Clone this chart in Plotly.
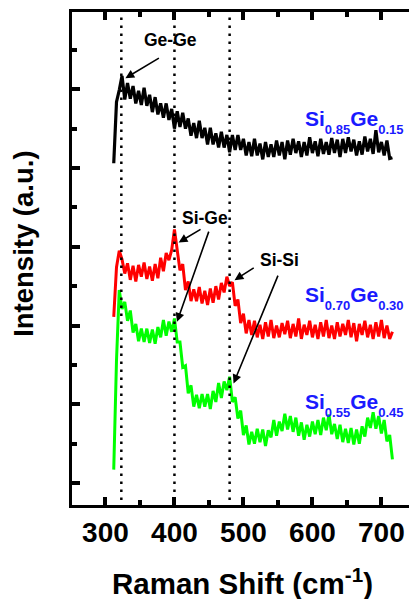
import plotly.graph_objects as go

# Raman shift grid (cm^-1)
raman_shift = [
    312, 316, 320, 324, 328, 332, 336, 340, 344, 348,
    352, 356, 360, 364, 368, 372, 376, 380, 384, 388,
    392, 396, 400, 404, 408, 412, 416, 420, 424, 428,
    432, 436, 440, 444, 448, 452, 456, 460, 464, 468,
    472, 476, 480, 484, 488, 492, 496, 500, 504, 508,
    512, 516, 520, 524, 528, 532, 536, 540, 544, 548,
    552, 556, 560, 564, 568, 572, 576, 580, 584, 588,
    592, 596, 600, 604, 608, 612, 616, 620, 624, 628,
    632, 636, 640, 644, 648, 652, 656, 660, 664, 668,
    672, 676, 680, 684, 688, 692, 696, 700, 704, 708,
    712, 716,
]

# Offset Raman intensities (a.u.)
si085_ge015 = [
    4.06, 4.84, 4.99, 5.17, 4.87, 5.08, 4.88, 5.04, 4.82, 4.98,
    4.80, 5.02, 4.79, 4.93, 4.71, 4.90, 4.68, 4.82, 4.64, 4.82,
    4.61, 4.75, 4.50, 4.72, 4.52, 4.70, 4.50, 4.63, 4.41, 4.57,
    4.38, 4.60, 4.38, 4.51, 4.30, 4.51, 4.30, 4.44, 4.26, 4.46,
    4.26, 4.42, 4.20, 4.42, 4.23, 4.42, 4.23, 4.37, 4.16, 4.33,
    4.15, 4.37, 4.16, 4.31, 4.11, 4.33, 4.14, 4.30, 4.14, 4.35,
    4.16, 4.33, 4.11, 4.35, 4.17, 4.37, 4.19, 4.34, 4.14, 4.33,
    4.16, 4.39, 4.19, 4.34, 4.15, 4.37, 4.18, 4.33, 4.17, 4.38,
    4.19, 4.36, 4.14, 4.37, 4.19, 4.39, 4.21, 4.36, 4.16, 4.34,
    4.17, 4.40, 4.21, 4.37, 4.18, 4.48, 4.20, 4.33, 4.16, 4.35,
    4.12, 4.13,
]
si070_ge030 = [
    2.11, 2.74, 2.95, 2.84, 2.66, 2.79, 2.58, 2.76, 2.56, 2.77,
    2.62, 2.80, 2.59, 2.75, 2.57, 2.78, 2.60, 2.86, 2.69, 2.92,
    2.83, 2.96, 3.22, 2.92, 2.70, 2.78, 2.45, 2.56, 2.31, 2.46,
    2.31, 2.49, 2.28, 2.44, 2.26, 2.47, 2.29, 2.50, 2.33, 2.54,
    2.42, 2.62, 2.50, 2.55, 2.25, 2.33, 2.03, 2.15, 1.90, 2.07,
    1.88, 2.06, 1.85, 2.01, 1.83, 2.04, 1.86, 2.07, 1.84, 2.00,
    1.85, 2.03, 1.89, 2.06, 1.84, 2.02, 1.86, 2.09, 1.83, 2.01,
    1.88, 2.06, 1.85, 2.01, 1.83, 2.04, 1.86, 2.07, 1.84, 2.00,
    1.83, 2.04, 1.86, 2.02, 1.88, 2.07, 1.85, 2.03, 1.80, 2.02,
    1.88, 2.06, 1.85, 2.01, 1.83, 2.04, 1.86, 2.07, 1.84, 2.00,
    1.83, 1.92,
]
si055_ge045 = [
    0.17, 1.56, 2.45, 2.21, 2.30, 2.06, 2.19, 1.91, 2.02, 1.80,
    1.96, 1.79, 1.96, 1.78, 1.95, 1.77, 1.98, 1.85, 2.07, 1.87,
    2.05, 1.92, 2.09, 1.79, 1.79, 1.47, 1.49, 1.14, 1.24, 0.97,
    1.12, 0.95, 1.13, 0.97, 1.13, 0.94, 1.17, 1.03, 1.27, 1.08,
    1.29, 1.18, 1.35, 1.03, 1.09, 0.82, 0.92, 0.61, 0.73, 0.49,
    0.65, 0.50, 0.69, 0.52, 0.68, 0.47, 0.67, 0.58, 0.80, 0.60,
    0.78, 0.66, 0.88, 0.68, 0.85, 0.65, 0.83, 0.60, 0.77, 0.55,
    0.74, 0.59, 0.78, 0.62, 0.80, 0.61, 0.83, 0.67, 0.87, 0.62,
    0.75, 0.56, 0.74, 0.52, 0.69, 0.51, 0.70, 0.49, 0.68, 0.50,
    0.72, 0.59, 0.83, 0.70, 0.90, 0.69, 0.85, 0.63, 0.80, 0.53,
    0.61, 0.30,
]

# Phonon mode positions (cm^-1): Ge-Ge, Si-Ge, Si-Si
mode_positions = [323, 400, 480]

x_major = [300, 400, 500, 600, 700]
x_minor = [350, 450, 550, 650]
y_major = [0, 1, 2, 3, 4, 5]
y_minor = [0.5, 1.5, 2.5, 3.5, 4.5, 5.5]

FONT = "Liberation Sans"
BLUE = "#1a1aff"

fig = go.Figure()

for values, color, lw in ((si085_ge015, "#000000", 3.2),
                          (si070_ge030, "#ff0000", 3.0),
                          (si055_ge045, "#00ff00", 3.0)):
    fig.add_trace(go.Scatter(
        x=raman_shift, y=values, mode="lines",
        line=dict(color=color, width=lw),
        showlegend=False, hoverinfo="skip",
    ))

# dotted guides at the phonon modes
for xv in mode_positions:
    fig.add_shape(type="line", xref="x", yref="paper",
                  x0=xv, x1=xv, y0=0.01, y1=0.99,
                  line=dict(color="black", width=2.5, dash="2.5px,5.5px"))

y_range = [-0.279, 5.981]

fig.update_layout(
    width=409, height=599,
    margin=dict(l=71.5, r=0, t=12, b=94, pad=0),
    paper_bgcolor="white", plot_bgcolor="white",
    showlegend=False,
    xaxis=dict(
        range=[251.5, 740], tickmode="array", tickvals=x_major,
        ticks="inside", ticklen=8, tickwidth=3.5, tickcolor="black",
        showline=True, linewidth=3, linecolor="black", mirror="ticks",
        showgrid=False, zeroline=False,
        tickfont=dict(family=FONT, size=28, color="black", weight="bold"),
        minor=dict(tickmode="array", tickvals=x_minor, ticks="inside",
                   ticklen=5, tickwidth=3.5, tickcolor="black", showgrid=False),
    ),
    yaxis=dict(
        range=y_range, tickmode="array", tickvals=y_major,
        ticks="inside", ticklen=8, tickwidth=3.5, tickcolor="black",
        showline=True, linewidth=3, linecolor="black", mirror=False,
        showticklabels=False, showgrid=False, zeroline=False,
        minor=dict(tickmode="array", tickvals=y_minor, ticks="inside",
                   ticklen=5, tickwidth=3.5, tickcolor="black", showgrid=False),
    ),
    yaxis2=dict(
        range=y_range, overlaying="y", side="right",
        tickmode="array", tickvals=y_major,
        ticks="inside", ticklen=3, tickwidth=3.5, tickcolor="black",
        showline=False, showticklabels=False, showgrid=False, zeroline=False,
    ),
)

annotations = []

# axis titles
annotations.append(dict(
    text="Intensity (a.u.)", xref="paper", yref="paper",
    x=-0.142, y=0.530, textangle=-90, showarrow=False,
    xanchor="center", yanchor="middle",
    font=dict(family=FONT, size=27.5, color="black", weight="bold"),
))
annotations.append(dict(
    text="Raman Shift (cm<sup>-1</sup>)", xref="paper", yref="paper",
    x=0.506, y=-0.155, showarrow=False,
    xanchor="center", yanchor="middle",
    font=dict(family=FONT, size=29.5, color="black", weight="bold"),
))

# phonon mode labels
for label, xv, yv in (("Ge-Ge", 394, 5.62),
                      ("Si-Ge", 444, 3.363),
                      ("Si-Si", 551.8, 2.83)):
    annotations.append(dict(
        text=label, x=xv, y=yv, xref="x", yref="y", showarrow=False,
        xanchor="center", yanchor="middle",
        font=dict(family=FONT, size=17.5, color="black", weight="bold"),
    ))

# arrows from labels to the peaks
for xv, yv, ax, ay in ((328.9, 5.14, 35, -21),
                       (406.1, 3.055, 23.4, -14),
                       (403.7, 2.047, 32.3, -91.7),
                       (487.1, 2.576, 20.7, -13.3),
                       (485.7, 1.265, 45, -109.3)):
    annotations.append(dict(
        text="", x=xv, y=yv, xref="x", yref="y", ax=ax, ay=ay,
        showarrow=True, arrowhead=2, arrowsize=1.1, arrowwidth=1.6,
        arrowcolor="black", standoff=0, startstandoff=0,
    ))


def composition(si, ge):
    big = '<span style="font-size:21px">%s</span>'
    small = '<sub><span style="font-size:13px">%s</span></sub>'
    return (big % "Si") + (small % si) + (big % "Ge") + (small % ge)


for si, ge, yv in (("0.85", "0.15", 4.59),
                   ("0.70", "0.30", 2.35),
                   ("0.55", "0.45", 0.99)):
    annotations.append(dict(
        text=composition(si, ge), x=586.5, y=yv, xref="x", yref="y",
        showarrow=False, xanchor="left", yanchor="middle",
        font=dict(family=FONT, size=36, color=BLUE, weight="bold"),
    ))

fig.update_layout(annotations=annotations)

fig.write_html("out.html")
